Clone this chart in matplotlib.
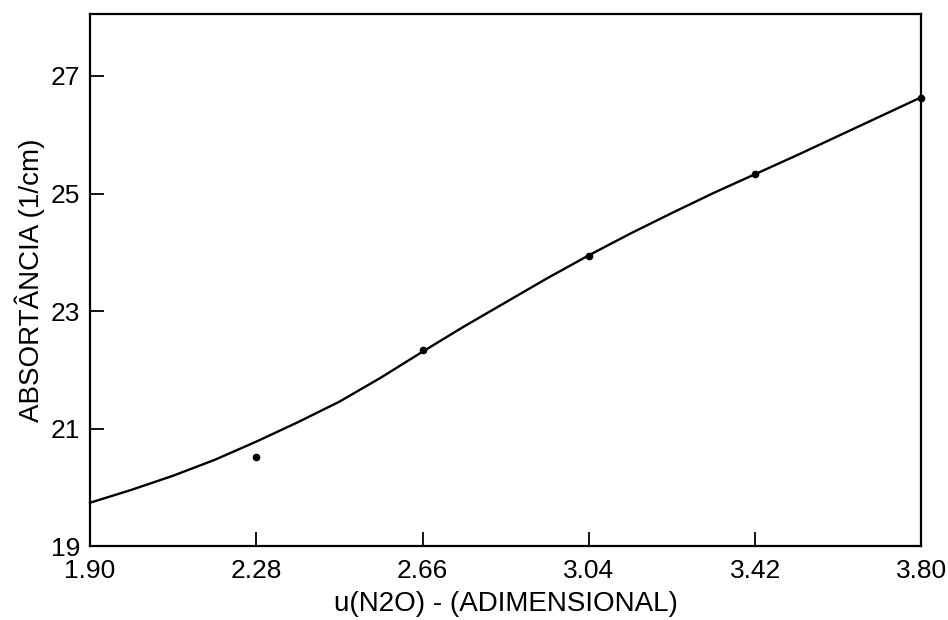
import numpy as np
import matplotlib
matplotlib.use("Agg")
import matplotlib.pyplot as plt

x_pts = [2.28, 2.66, 3.04, 3.42, 3.80]
y_pts = [20.52, 22.33, 23.93, 25.33, 26.62]

# fitted curve, sampled by eye along the drawn line
x_fit = [1.90, 1.995, 2.09, 2.185, 2.28, 2.375, 2.47, 2.565, 2.66, 2.755,
         2.85, 2.945, 3.04, 3.135, 3.23, 3.325, 3.42, 3.515, 3.61, 3.705, 3.80]
y_fit = [19.74, 19.96, 20.20, 20.47, 20.78, 21.11, 21.46, 21.87, 22.31, 22.74,
         23.15, 23.56, 23.95, 24.32, 24.67, 25.01, 25.33, 25.65, 25.98, 26.31, 26.64]

xticks = [1.90, 2.28, 2.66, 3.04, 3.42, 3.80]
yticks = [19, 21, 23, 25, 27]

plt.rcParams['font.family'] = ['Liberation Sans', 'DejaVu Sans']

fig = plt.figure(figsize=(9.48, 6.2), dpi=100)
ax = fig.add_axes([0.095, 0.119, 0.877, 0.858])

ax.plot(x_fit, y_fit, color='black', lw=1.7, clip_on=False)
ax.plot(x_pts, y_pts, 'o', color='black', ms=4.5, clip_on=False)

ax.set_xlim(1.90, 3.80)
ax.set_ylim(19, 28.05)
ax.set_xticks(xticks)
ax.set_xticklabels([f"{v:.2f}" for v in xticks])
ax.set_yticks(yticks)
ax.tick_params(axis='both', direction='in', length=10, width=1.3,
               labelsize=19, color='black')
ax.tick_params(axis='x', pad=9)
ax.tick_params(axis='y', pad=7)
for s in ax.spines.values():
    s.set_linewidth(1.6)

ax.set_xlabel("u(N2O) - (ADIMENSIONAL)", fontsize=20, labelpad=6)
ax.set_ylabel("ABSORTÂNCIA (1/cm)", fontsize=20, labelpad=4)

fig.savefig("out.png", dpi=100)
